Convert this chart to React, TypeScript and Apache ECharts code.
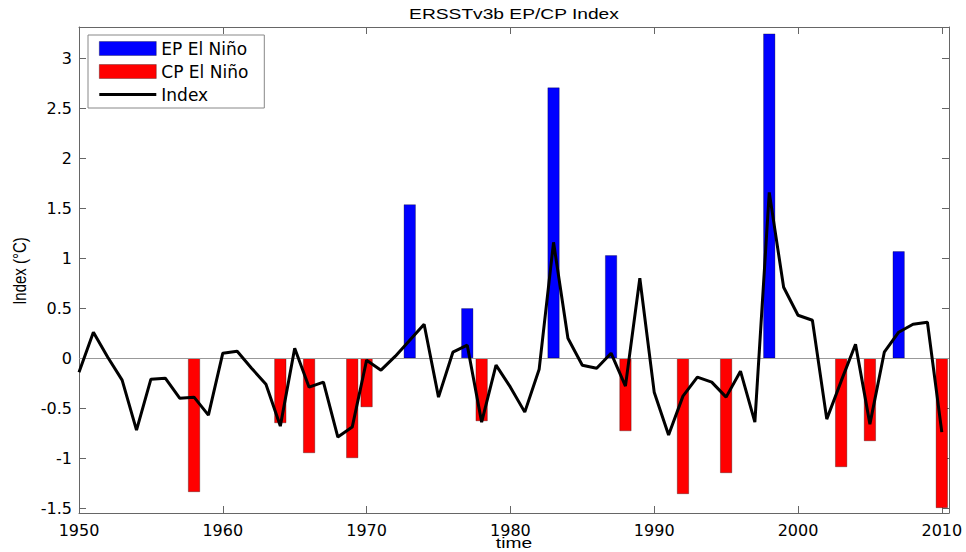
import React, { useEffect, useRef } from "react";
import * as echarts from "echarts";

const TITLE = "ERSSTv3b EP/CP Index";
const Y_NAME = "Index (°C)";
const X_NAME = "time";

const EP_YEARS = [1973, 1977, 1983, 1987, 1998, 2007];
const EP_VALUES = [1.54, 0.5, 2.71, 1.03, 3.25, 1.07];

const CP_YEARS = [1958, 1964, 1966, 1969, 1970, 1978, 1988, 1992, 1995, 2003, 2005, 2010];
const CP_VALUES = [-1.34, -0.65, -0.95, -1.0, -0.49, -0.63, -0.73, -1.36, -1.15, -1.09, -0.83, -1.5];

const INDEX_YEARS = [
  1950, 1951, 1952, 1953, 1954, 1955, 1956, 1957, 1958, 1959,
  1960, 1961, 1962, 1963, 1964, 1965, 1966, 1967, 1968, 1969,
  1970, 1971, 1972, 1973, 1974, 1975, 1976, 1977, 1978, 1979,
  1980, 1981, 1982, 1983, 1984, 1985, 1986, 1987, 1988, 1989,
  1990, 1991, 1992, 1993, 1994, 1995, 1996, 1997, 1998, 1999,
  2000, 2001, 2002, 2003, 2004, 2005, 2006, 2007, 2008, 2009,
  2010,
];
const INDEX_VALUES = [
  -0.14, 0.26, 0.01, -0.22, -0.72, -0.21, -0.2, -0.4, -0.39, -0.57,
  0.05, 0.07, -0.1, -0.26, -0.68, 0.1, -0.29, -0.24, -0.79, -0.69,
  -0.02, -0.12, 0.02, 0.18, 0.34, -0.39, 0.06, 0.13, -0.64, -0.07,
  -0.29, -0.54, -0.11, 1.16, 0.2, -0.07, -0.1, 0.05, -0.28, 0.8,
  -0.34, -0.77, -0.38, -0.19, -0.24, -0.39, -0.13, -0.64, 1.66, 0.71,
  0.43, 0.38, -0.61, -0.23, 0.14, -0.66, 0.06, 0.26, 0.34, 0.36,
  -0.74,
];

const Y_TICKS = [-1.5, -1, -0.5, 0, 0.5, 1, 1.5, 2, 2.5, 3];

const FONT = "DejaVu Sans";
const SANS = "Liberation Sans";

export default function App() {
  const ref = useRef<HTMLDivElement>(null);
  useEffect(() => {
    if (!ref.current) return;
    const chart = echarts.init(ref.current, null, { renderer: "svg" });
    const axisLineStyle = { color: "#666", width: 1 };
    const tickStyle = { color: "#666", width: 1 };
    const barBorder = "rgba(0,0,0,0.5)";
    const option: any = {
      animation: false,
      backgroundColor: "#fff",
      grid: { left: 79, right: 17, top: 27, bottom: 39, containLabel: false },
      legend: {
        orient: "vertical",
        left: 88,
        top: 35,
        padding: [5, 16, 5, 11],
        itemWidth: 57,
        itemHeight: 14,
        itemGap: 6,
        backgroundColor: "#fff",
        borderColor: "#888",
        borderWidth: 1,
        borderRadius: 0,
        textStyle: { fontFamily: FONT, fontSize: 17, color: "#000" },
        data: [
          { name: "EP El Niño", icon: "rect", itemStyle: { borderWidth: 0.6 } },
          { name: "CP El Niño", icon: "rect", itemStyle: { borderWidth: 0.6 } },
          {
            name: "Index",
            icon: "path://M0,0 M0,5.5 L57,5.5 L57,8.5 L0,8.5 Z M57,14",
            itemStyle: { borderWidth: 0 },
          },
        ],
      },
      xAxis: [
        {
          type: "value",
          min: 1950,
          max: 2010.5,
          interval: 10,
          position: "bottom",
          splitLine: { show: false },
          axisLine: { show: true, onZero: false, lineStyle: axisLineStyle },
          axisTick: { show: true, inside: true, length: 7, lineStyle: tickStyle },
          axisLabel: {
            fontFamily: FONT,
            fontSize: 16,
            color: "#000",
            margin: 9,
            formatter: (v: number) => (Number.isInteger(v) ? String(v) : ""),
          },
        },
        {
          type: "value",
          min: 1950,
          max: 2010.5,
          interval: 10,
          position: "top",
          splitLine: { show: false },
          axisLine: { show: true, onZero: false, lineStyle: axisLineStyle },
          axisTick: { show: true, inside: true, length: 7, lineStyle: tickStyle },
          axisLabel: { show: false },
        },
      ],
      yAxis: [
        {
          type: "value",
          min: -1.55,
          max: 3.316,
          position: "left",
          splitLine: { show: false },
          axisLine: { show: true, onZero: false, lineStyle: axisLineStyle },
          axisTick: { show: true, inside: true, length: 7, lineStyle: tickStyle, customValues: Y_TICKS },
          axisLabel: {
            fontFamily: FONT,
            fontSize: 16,
            color: "#000",
            margin: 7,
            customValues: Y_TICKS,
          },
        },
        {
          type: "value",
          min: -1.55,
          max: 3.316,
          position: "right",
          splitLine: { show: false },
          axisLine: { show: true, onZero: false, lineStyle: axisLineStyle },
          axisTick: { show: true, inside: true, length: 7, lineStyle: tickStyle, customValues: Y_TICKS },
          axisLabel: { show: false },
        },
      ],
      series: [
        {
          name: "EP El Niño",
          type: "bar",
          barWidth: 12,
          barGap: "-100%",
          itemStyle: { color: "#0000ff", borderColor: barBorder, borderWidth: 0.6 },
          data: EP_YEARS.map((y, i) => [y, EP_VALUES[i]]),
          markLine: {
            silent: true,
            symbol: "none",
            label: { show: false },
            lineStyle: { color: "#999", width: 1.2, type: "solid" },
            data: [{ yAxis: 0 }],
          },
        },
        {
          name: "CP El Niño",
          type: "bar",
          barWidth: 12,
          barGap: "-100%",
          itemStyle: { color: "#ff0000", borderColor: barBorder, borderWidth: 0.6 },
          data: CP_YEARS.map((y, i) => [y, CP_VALUES[i]]),
        },
        {
          name: "Index",
          type: "line",
          symbol: "none",
          z: 5,
          lineStyle: { color: "#000", width: 3 },
          itemStyle: { color: "#000" },
          data: INDEX_YEARS.map((y, i) => [y, INDEX_VALUES[i]]),
        },
      ],
      graphic: [
        {
          type: "text",
          x: 514,
          y: 14,
          scaleX: 1.28,
          style: {
            text: TITLE,
            fontFamily: SANS,
            fontSize: 15,
            fill: "#000",
            align: "center",
            verticalAlign: "middle",
          },
        },
        {
          type: "text",
          x: 20,
          y: 271,
          rotation: Math.PI / 2,
          scaleY: 1.2,
          style: {
            text: Y_NAME,
            fontFamily: SANS,
            fontSize: 15,
            fill: "#000",
            align: "center",
            verticalAlign: "middle",
          },
        },
        {
          type: "text",
          x: 514,
          y: 543,
          scaleX: 1.28,
          style: {
            text: X_NAME,
            fontFamily: SANS,
            fontSize: 15,
            fill: "#000",
            align: "center",
            verticalAlign: "middle",
          },
        },
      ],
    };
    chart.setOption(option);
    return () => chart.dispose();
  }, []);
  return (
    <div
      ref={ref}
      style={{ position: "fixed", left: 0, top: 0, width: 966, height: 552 }}
    />
  );
}
